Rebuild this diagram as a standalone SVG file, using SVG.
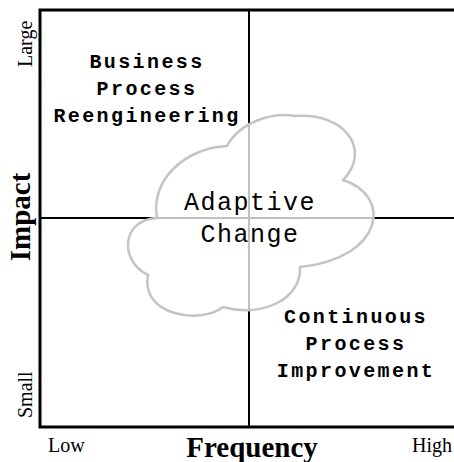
<svg xmlns="http://www.w3.org/2000/svg" width="454" height="462" viewBox="0 0 454 462">
  <style>
    .frame { stroke: #000; stroke-width: 3; fill: none; }
    .mid { stroke: #000; stroke-width: 2; fill: none; }
    .quad { font-family: "Liberation Mono", "Courier New", monospace; font-weight: bold; font-size: 20px; letter-spacing: 2.4px; text-anchor: middle; fill: #000; }
    .center { font-family: "Liberation Mono", "Courier New", monospace; font-size: 25px; letter-spacing: 1.5px; text-anchor: middle; fill: #000; }
    .tick { font-family: "Liberation Serif", "Times New Roman", serif; font-size: 20px; fill: #000; }
    .axis { font-family: "Liberation Serif", "Times New Roman", serif; font-weight: bold; font-size: 29px; text-anchor: middle; fill: #000; }
  </style>
  <rect width="454" height="462" fill="#fff"/>

  <!-- quadrant grid -->
  <g id="connectors">
    <line class="mid" x1="40" y1="218" x2="454" y2="218"/>
    <line class="mid" x1="249" y1="10" x2="249" y2="427"/>
    <path class="frame" d="M454,10 H40 V427 H454"/>
  </g>

  <!-- central cloud, translucent so the grid shows through -->
  <g id="adaptive-change">
    <path d="M157,218 C150,180 185,148 227,146 C240,122 272,112 295,116 C345,112 372,150 343,180 C392,195 385,258 300,267 C302,300 260,318 223,307 C200,325 140,315 148,275 C120,262 120,220 157,218 Z"
          fill="#fff" fill-opacity="0.75" stroke="#c4c4c4" stroke-width="2.5" stroke-linejoin="round"/>
    <text class="center" x="250" y="210">Adaptive</text>
    <text class="center" x="250" y="242">Change</text>
  </g>

  <g id="bpr">
    <text class="quad" x="147" y="68">Business</text>
    <text class="quad" x="147" y="95">Process</text>
    <text class="quad" x="147" y="122">Reengineering</text>
  </g>

  <g id="cpi">
    <text class="quad" x="356" y="323">Continuous</text>
    <text class="quad" x="356" y="350">Process</text>
    <text class="quad" x="356" y="377">Improvement</text>
  </g>

  <!-- axis labels -->
  <g id="impact-axis">
    <text class="tick" transform="translate(32,67) rotate(-90)">Large</text>
    <text class="tick" transform="translate(32,418) rotate(-90)">Small</text>
    <text class="axis" transform="translate(30,217) rotate(-90)">Impact</text>
  </g>
  <g id="frequency-axis">
    <text class="tick" x="48" y="452">Low</text>
    <text class="tick" x="412" y="452">High</text>
    <text class="axis" x="252" y="457">Frequency</text>
  </g>
</svg>
